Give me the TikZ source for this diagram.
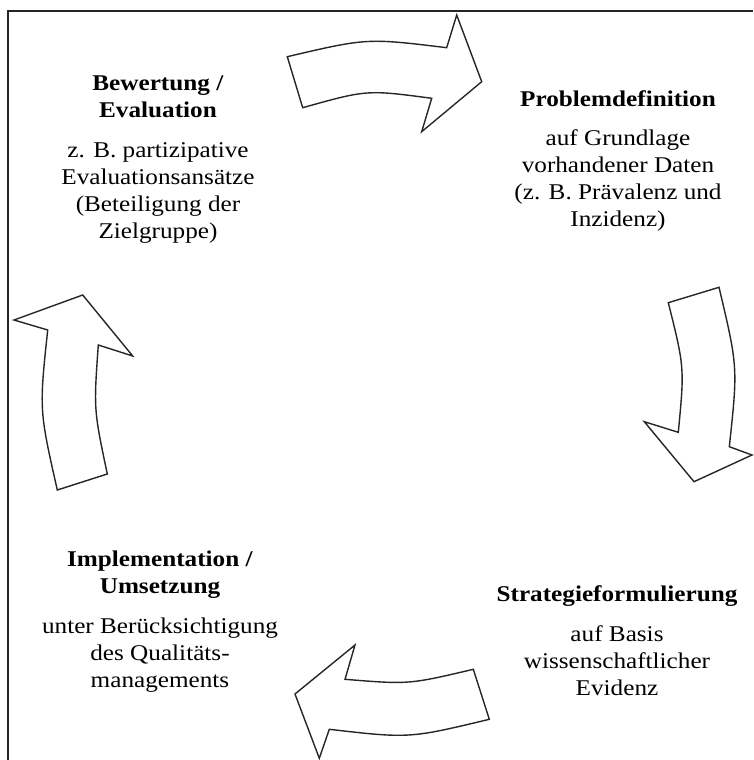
\documentclass[tikz,border=0pt]{standalone}
\usepackage{fontspec}
\setmainfont{Liberation Serif}[FakeStretch=1.12]
\begin{document}
\begin{tikzpicture}[x=1pt,y=-1pt,
  cyclearrow/.style={draw=black!85, line width=1.4pt, line join=miter, fill=white},
  frameline/.style={draw=black!85, line width=2pt},
  stage/.style={anchor=north, inner sep=0pt, align=center,
    font=\fontsize{22.5}{27}\selectfont, text=black}]
\useasboundingbox (0,0) rectangle (753,760);

% frame (top and left edges)
\coordinate (frameTR) at (753,11);
\coordinate (frameTL) at (7.5,11);
\coordinate (frameBL) at (7.5,760);
\draw[frameline] (frameTR) -- (frameTL) -- (frameBL);

% top arrow: evaluation -> problem definition
\draw[cyclearrow] (287.3,56.7) .. controls (367,38) and (367,38) .. (446.7,47.7)
  -- (456.7,15) -- (481.7,81.7) -- (421.7,131.7) -- (431.7,98.3)
  .. controls (366.9,89.7) and (366.9,89.7) .. (302.7,107.7) -- cycle;

% right arrow: problem definition -> strategy
\draw[cyclearrow] (668.3,302.7) -- (719,287.3)
  .. controls (737.9,367) and (737.9,367) .. (729.3,446.7)
  -- (752,455) -- (694,481.7) -- (644.3,421.7) -- (678.3,432.3)
  .. controls (684.5,367.5) and (684.5,367.5) .. (668.3,302.7) -- cycle;

% bottom arrow: strategy -> implementation
\draw[cyclearrow] (473.3,669.3) .. controls (408.9,684.5) and (408.9,684.5) .. (345,679.3)
  -- (355,645) -- (295,694) -- (319.3,758.3) -- (329.3,729.3)
  .. controls (409.3,738.5) and (409.3,738.5) .. (489.3,719.3) -- cycle;

% left arrow: implementation -> evaluation
\draw[cyclearrow] (107.3,474) .. controls (93.7,409.5) and (93.7,409.5) .. (98.3,345)
  -- (132.7,356) -- (82.7,295) -- (14,320) -- (47.7,330)
  .. controls (39.2,410) and (39.2,410) .. (57.3,490) -- cycle;

% stage texts
\node[stage] (eval) at (158,75.5)
  {\textbf{Bewertung /}\\\textbf{Evaluation}\\[13pt]
   z. B. partizipative\\Evaluationsansätze\\(Beteiligung der\\Zielgruppe)};
\node[stage] (problem) at (618,90.5)
  {\textbf{Problemdefinition}\\[12pt]
   auf Grundlage\\vorhandener Daten\\(z. B. Prävalenz und\\Inzidenz)};
\node[stage] (impl) at (160,550.5)
  {\textbf{Implementation /}\\\textbf{Umsetzung}\\[13pt]
   unter Berücksichtigung\\des Qualitäts-\\managements};
\node[stage] (strategy) at (617,585.5)
  {\textbf{Strategieformulierung}\\[13pt]
   auf Basis\\wissenschaftlicher\\Evidenz};
\end{tikzpicture}
\end{document}
